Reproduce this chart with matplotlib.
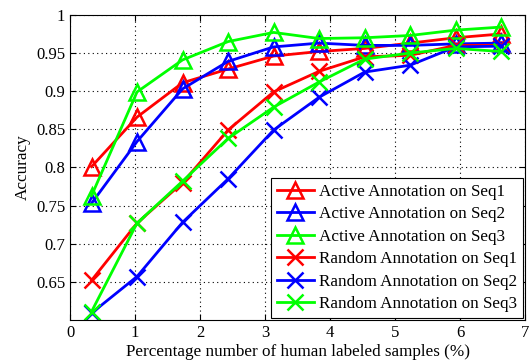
import matplotlib
matplotlib.use("Agg")
import matplotlib.pyplot as plt

plt.rcParams["font.family"] = ["Liberation Serif", "DejaVu Serif"]

# percentage of human labeled samples
x = [0.33, 1.03, 1.73, 2.43, 3.13, 3.83, 4.53, 5.23, 5.93, 6.63]

active_seq1 = [0.801, 0.866, 0.911, 0.929, 0.946, 0.952, 0.956, 0.963, 0.970, 0.975]
active_seq2 = [0.753, 0.834, 0.903, 0.939, 0.958, 0.963, 0.960, 0.960, 0.962, 0.963]
active_seq3 = [0.763, 0.899, 0.941, 0.965, 0.977, 0.969, 0.970, 0.973, 0.980, 0.984]
random_seq1 = [0.652, 0.727, 0.780, 0.849, 0.899, 0.926, 0.945, 0.947, 0.960, 0.960]
random_seq2 = [0.609, 0.657, 0.728, 0.785, 0.849, 0.892, 0.925, 0.934, 0.958, 0.959]
random_seq3 = [0.611, 0.727, 0.782, 0.838, 0.879, 0.912, 0.942, 0.950, 0.956, 0.952]

labels = ["Active Annotation on Seq1", "Active Annotation on Seq2", "Active Annotation on Seq3",
          "Random Annotation on Seq1", "Random Annotation on Seq2", "Random Annotation on Seq3"]

fig = plt.figure(figsize=(5.31, 3.63), dpi=100)
ax = fig.add_axes([0.132, 0.1185, 0.857, 0.8405])

series = [active_seq1, active_seq2, active_seq3, random_seq1, random_seq2, random_seq3]
colors = ["#ff0000", "#0000ff", "#00ff00"] * 2
markers = ["^"] * 3 + ["x"] * 3

for ys, c, m, lab in zip(series, colors, markers, labels):
    ax.plot(x, ys, color=c, marker=m, lw=2, ms=12, mew=1.8,
            markerfacecolor="none" if m == "^" else c, label=lab)

ax.set_xlim(0, 7)
ax.set_ylim(0.6, 1.0)
ax.set_xticks(range(0, 8))
ax.set_yticks([0.65, 0.7, 0.75, 0.8, 0.85, 0.9, 0.95, 1.0])
ax.set_yticklabels(["0.65", "0.7", "0.75", "0.8", "0.85", "0.9", "0.95", "1"])
ax.tick_params(direction="in", top=True, right=True, labelsize=12, length=4)
ax.grid(True, color="black", linestyle=(0, (1, 3)), lw=0.8)

ax.set_xlabel("Percentage number of human labeled samples (%)", fontsize=12.3, labelpad=2)
ax.set_ylabel("Accuracy", fontsize=12.3, labelpad=4)

leg = ax.legend(loc="lower right", fontsize=12.3, fancybox=False, edgecolor="black",
                framealpha=1, handlelength=2.2, borderaxespad=0.1, borderpad=0.35,
                labelspacing=0.38, handletextpad=0.3)
leg.get_frame().set_linewidth(0.8)

fig.savefig("out.png", dpi=100)
